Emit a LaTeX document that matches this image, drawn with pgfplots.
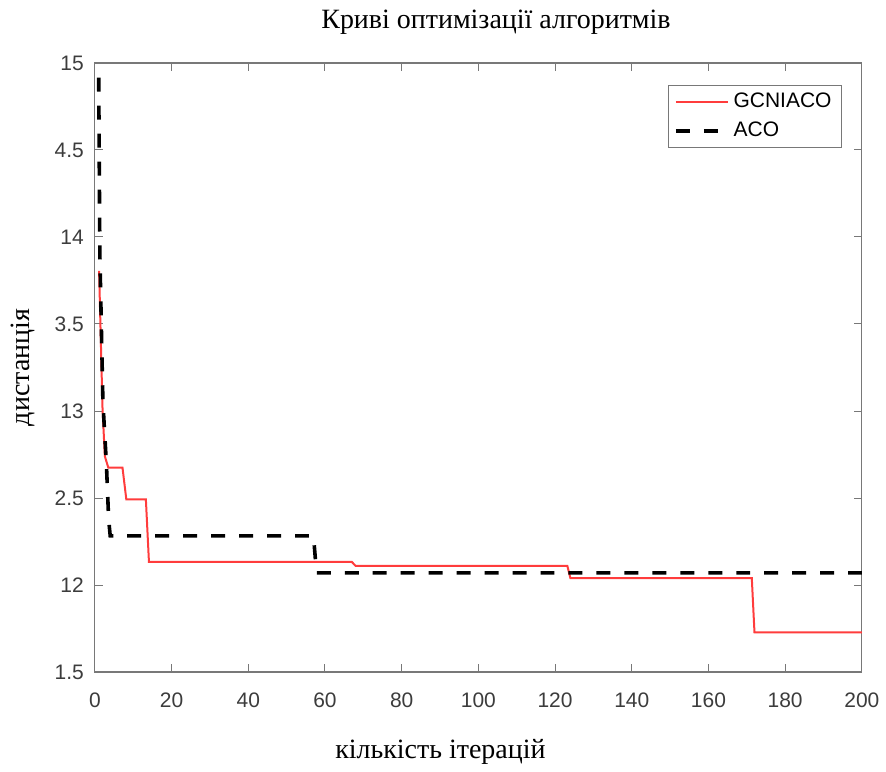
\documentclass[border=0pt]{standalone}
\usepackage{fontspec}
\setmainfont{Liberation Serif}
\newfontfamily\arial{Liberation Sans}
\usepackage{pgfplots}
\pgfplotsset{compat=1.18}
\definecolor{mred}{RGB}{255,60,60}
\definecolor{axgray}{RGB}{120,120,120}
\definecolor{lblgray}{RGB}{60,60,60}

\begin{document}
\begin{tikzpicture}
\begin{axis}[
  scale only axis,
  width=384pt, height=305pt,
  xmin=0, xmax=200, ymin=0, ymax=7,
  xtick={0,20,...,200},
  ytick={0,1,...,7},
  yticklabels={1.5,12,2.5,13,3.5,14,4.5,15},
  /pgf/number format/assume math mode=true,
  ticklabel style={font=\arial\fontsize{10.5}{12}\selectfont, text=lblgray},
  xticklabel style={yshift=-7pt},
  yticklabel style={xshift=-2pt},
  tick align=inside,
  major tick length=4pt,
  tick style={axgray, line width=0.5pt},
  axis line style={axgray, line width=0.6pt},
  every axis title shift=0pt,
  title={Криві оптимізації алгоритмів},
  title style={at={(axis description cs:0.523,1.057)}, anchor=base, font=\fontsize{14}{16}\selectfont},
  xlabel={кількість ітерацій},
  xlabel style={at={(axis description cs:0.4505,-0.1426)}, anchor=base, font=\fontsize{14}{16}\selectfont},
  ylabel={дистанція},
  ylabel style={at={(axis description cs:-0.085,0.5)}, anchor=base, font=\fontsize{14}{16}\selectfont},
  legend style={at={(axis description cs:1,1)}, anchor=north east, xshift=-10pt, yshift=-11pt,
    draw=axgray, font=\arial\fontsize{10.5}{12}\selectfont, cells={anchor=west}, row sep=1.5pt},
  legend image code/.code={\draw[#1] (0pt,0pt) -- (26pt,0pt);},
]
\addplot[mred, line width=1pt] coordinates {
  (1.1,4.61) (2,3.02) (2.6,2.48) (3.5,2.35) (7.2,2.35) (8.2,1.985) (13.3,1.985)
  (14.1,1.266) (67,1.266) (68,1.22) (123.2,1.22) (124,1.08) (171.3,1.08)
  (172,0.455) (200,0.455)
};
\addplot[black, line width=1.8pt, dash pattern=on 7pt off 7pt] coordinates {
  (1,6.83) (1.3,4.8) (2.1,3.1) (3,2.4) (3.6,1.75) (4,1.566) (57,1.566)
  (57.8,1.14) (200,1.14)
};
\legend{GCNIACO, ACO}
\path (rel axis cs:0,0) ++(-47.5pt,-47pt) coordinate (bbsw);
\path (rel axis cs:1,1) ++(11.5pt,31.5pt) coordinate (bbne);
\end{axis}
\path (bbsw) rectangle (bbne);
\end{tikzpicture}
\end{document}
